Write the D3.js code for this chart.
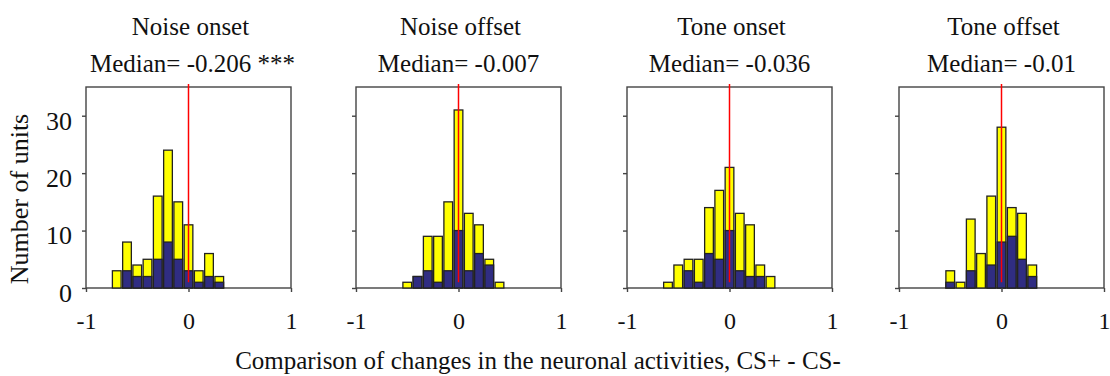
<!DOCTYPE html>
<html>
<head>
<meta charset="utf-8">
<script src="https://cdn.jsdelivr.net/npm/d3@7"></script>
<style>
  body { margin: 0; background: #fff; }
  text { font-family: "Liberation Serif", "Times New Roman", serif; fill: #111; }
</style>
</head>
<body>
<svg width="1110" height="376"></svg>
<script>
// chart values
let panelTitles = ['Noise onset', 'Noise offset', 'Tone onset', 'Tone offset']
let medianLabels = ['Median= -0.206 ***', 'Median= -0.007', 'Median= -0.036', 'Median= -0.01']
let xTicks = [-1, 0, 1]
let yTicks = [0, 10, 20, 30]

// bin centres and counts (yellow = all units, blue = significant units)
let noiseOnsetBins = [-0.7, -0.6, -0.5, -0.4, -0.3, -0.2, -0.1, 0, 0.1, 0.2, 0.3]
let noiseOnsetAll = [3, 8, 4, 5, 16, 24, 15, 11, 3, 6, 2]
let noiseOnsetSig = [0, 3, 2, 2, 5, 8, 5, 3, 1, 2, 1]

let noiseOffsetBins = [-0.5, -0.4, -0.3, -0.2, -0.1, 0, 0.1, 0.2, 0.3, 0.4]
let noiseOffsetAll = [1, 2, 9, 9, 15, 31, 13, 11, 5, 1]
let noiseOffsetSig = [0, 2, 3, 1, 3, 10, 3, 6, 4, 0]

let toneOnsetBins = [-0.6, -0.5, -0.4, -0.3, -0.2, -0.1, 0, 0.1, 0.2, 0.3, 0.4]
let toneOnsetAll = [1, 4, 5, 5, 14, 17, 21, 13, 11, 4, 2]
let toneOnsetSig = [0, 0, 3, 1, 6, 5, 10, 3, 2, 2, 0]

let toneOffsetBins = [-0.5, -0.4, -0.3, -0.2, -0.1, 0, 0.1, 0.2, 0.3]
let toneOffsetAll = [3, 1, 12, 6, 16, 28, 14, 13, 4]
let toneOffsetSig = [1, 0, 3, 0, 4, 8, 9, 5, 2]

let panelBins = [noiseOnsetBins, noiseOffsetBins, toneOnsetBins, toneOffsetBins]
let panelAll = [noiseOnsetAll, noiseOffsetAll, toneOnsetAll, toneOffsetAll]
let panelSig = [noiseOnsetSig, noiseOffsetSig, toneOnsetSig, toneOffsetSig]

let panelLefts = [86, 356, 627, 899]
let panelWidth = 205
let plotTop = 87, plotBottom = 288
let binWidth = 0.085

let svg = d3.select('svg')

let y = d3.scaleLinear().domain([0, 35]).range([plotBottom, plotTop])

panelTitles.forEach(function (title, p) {
  let left = panelLefts[p]
  let x = d3.scaleLinear().domain([-1, 1]).range([left, left + panelWidth])
  let g = svg.append('g').attr('class', 'panel')

  let rows = panelBins[p].map(function (c, i) {
    return { center: c, all: panelAll[p][i], sig: panelSig[p][i] }
  })

  // frame
  g.append('rect')
    .attr('x', left).attr('y', plotTop)
    .attr('width', panelWidth).attr('height', plotBottom - plotTop)
    .attr('fill', 'none').attr('stroke', '#444').attr('stroke-width', 1.4)

  // yellow bars (all units)
  g.selectAll('rect.all').data(rows).enter().append('rect')
    .attr('class', 'all')
    .attr('x', function (d) { return x(d.center - binWidth / 2) })
    .attr('width', function (d) { return x(binWidth) - x(0) })
    .attr('y', function (d) { return y(d.all) })
    .attr('height', function (d) { return y(0) - y(d.all) })
    .attr('fill', '#ffff00')
    .attr('stroke', '#222').attr('stroke-width', 1.3)

  // blue bars (significant units)
  g.selectAll('rect.sig').data(rows.filter(function (d) { return d.sig > 0 })).enter().append('rect')
    .attr('class', 'sig')
    .attr('x', function (d) { return x(d.center - binWidth / 2) })
    .attr('width', function (d) { return x(binWidth) - x(0) })
    .attr('y', function (d) { return y(d.sig) })
    .attr('height', function (d) { return y(0) - y(d.sig) })
    .attr('fill', '#302d82')
    .attr('stroke', '#222').attr('stroke-width', 1.3)

  // red zero line
  g.append('line')
    .attr('x1', x(0)).attr('x2', x(0))
    .attr('y1', y(1)).attr('y2', plotTop - 3)
    .attr('stroke', '#ff0000').attr('stroke-width', 1.5)

  // axes
  let xAxis = g.append('g')
    .attr('transform', 'translate(0,' + plotBottom + ')')
    .call(d3.axisBottom(x).tickValues(xTicks).tickSize(4).tickFormat(d3.format('d')))
  xAxis.select('.domain').remove()
  xAxis.selectAll('line').attr('stroke', '#444').attr('stroke-width', 1.4)
  xAxis.selectAll('text')
    .attr('y', 24).attr('dy', '0.71em')
    .style('font-size', '24px')
    .text(function (d) { return d === -1 ? '-1' : d })

  let yAxis = g.append('g')
    .attr('transform', 'translate(' + left + ',0)')
    .call(d3.axisLeft(y).tickValues(yTicks).tickSize(4))
  yAxis.select('.domain').remove()
  yAxis.selectAll('line').attr('stroke', '#444').attr('stroke-width', 1.4)
  yAxis.selectAll('text')
    .attr('x', -14).attr('y', 5)
    .style('font-size', '26px')
  if (p > 0) yAxis.selectAll('text').remove()

  // titles
  g.append('text')
    .attr('x', x(0) + 2).attr('y', 35)
    .attr('text-anchor', 'middle')
    .style('font-size', '25px')
    .text(title)
  g.append('text')
    .attr('x', x(0) + (p === 0 ? 4 : 0)).attr('y', 72)
    .attr('text-anchor', 'middle')
    .style('font-size', '25px')
    .text(medianLabels[p])
})

svg.append('text')
  .attr('transform', 'translate(28,199) rotate(-90)')
  .attr('text-anchor', 'middle')
  .style('font-size', '26px')
  .text('Number of units')

svg.append('text')
  .attr('x', 538).attr('y', 369)
  .attr('text-anchor', 'middle')
  .style('font-size', '25px')
  .text('Comparison of changes in the neuronal activities, CS+ - CS-')
</script>
</body>
</html>
